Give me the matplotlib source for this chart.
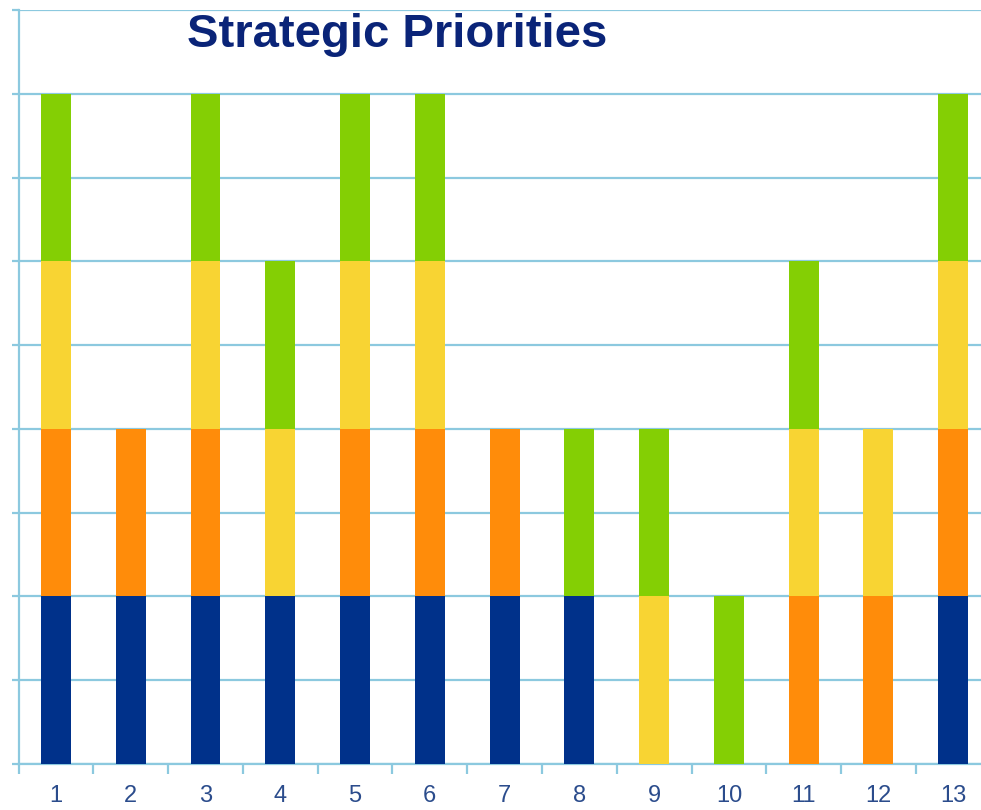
import matplotlib
matplotlib.use("Agg")
import matplotlib.pyplot as plt
import numpy as np

categories = ["1", "2", "3", "4", "5", "6", "7", "8", "9", "10", "11", "12", "13"]
series_names = ["Blue", "Orange", "Yellow", "Green"]
blue   = [1, 1, 1, 1, 1, 1, 1, 1, 0, 0, 0, 0, 1]
orange = [1, 1, 1, 0, 1, 1, 1, 0, 0, 0, 1, 1, 1]
yellow = [1, 0, 1, 1, 1, 1, 0, 0, 1, 0, 1, 1, 1]
green  = [1, 0, 1, 1, 1, 1, 0, 1, 1, 1, 1, 0, 1]
colors = ["#00318A", "#FF8C0A", "#F8D433", "#84CF04"]

plt.rcParams['font.family'] = ['Liberation Sans', 'DejaVu Sans']

W, H = 981, 810
fig = plt.figure(figsize=(W / 100, H / 100), dpi=100)
left_px, right_px, bottom_px, top_px = 18.6, 990.6, 764, 10
ax = fig.add_axes([left_px / W, (H - bottom_px) / H,
                   (right_px - left_px) / W, (bottom_px - top_px) / H])

x = np.arange(1, len(categories) + 1)
bottom = np.zeros(len(categories))
for vals, c in zip([blue, orange, yellow, green], colors):
    v = np.array(vals, dtype=float)
    ax.bar(x, v, width=0.40, bottom=bottom, color=c, edgecolor='none', zorder=3)
    bottom += v

grid_c = "#8CC9DF"
ax.set_xlim(0.5, len(categories) + 0.5)
ax.set_ylim(0, 4.5)
ax.set_yticks(np.arange(0, 4.51, 0.5))
ax.set_yticklabels([])
ax.grid(axis='y', color=grid_c, linewidth=1.6, zorder=1)
ax.tick_params(axis='y', length=5, width=1.6, color=grid_c, direction='out')

ax.set_xticks(np.arange(0.5, len(categories) + 0.6, 1.0))
ax.set_xticklabels([])
ax.set_xticks(x, minor=True)
ax.set_xticklabels(categories, minor=True)
ax.tick_params(axis='x', which='major', length=7, width=1.6, color=grid_c, direction='out')
ax.tick_params(axis='x', which='minor', length=0, pad=15, labelsize=17, labelcolor="#2B4C8C")

for s in ['top', 'right']:
    ax.spines[s].set_visible(False)
for s in ['left', 'bottom']:
    ax.spines[s].set_color(grid_c)
    ax.spines[s].set_linewidth(1.6)
ax.set_axisbelow(True)

fig.text(397 / W, 1 - 35 / H, "Strategic Priorities", ha='center', va='center',
         fontsize=34, fontweight='bold', color="#0A2478")

fig.savefig("out.png", dpi=100)
